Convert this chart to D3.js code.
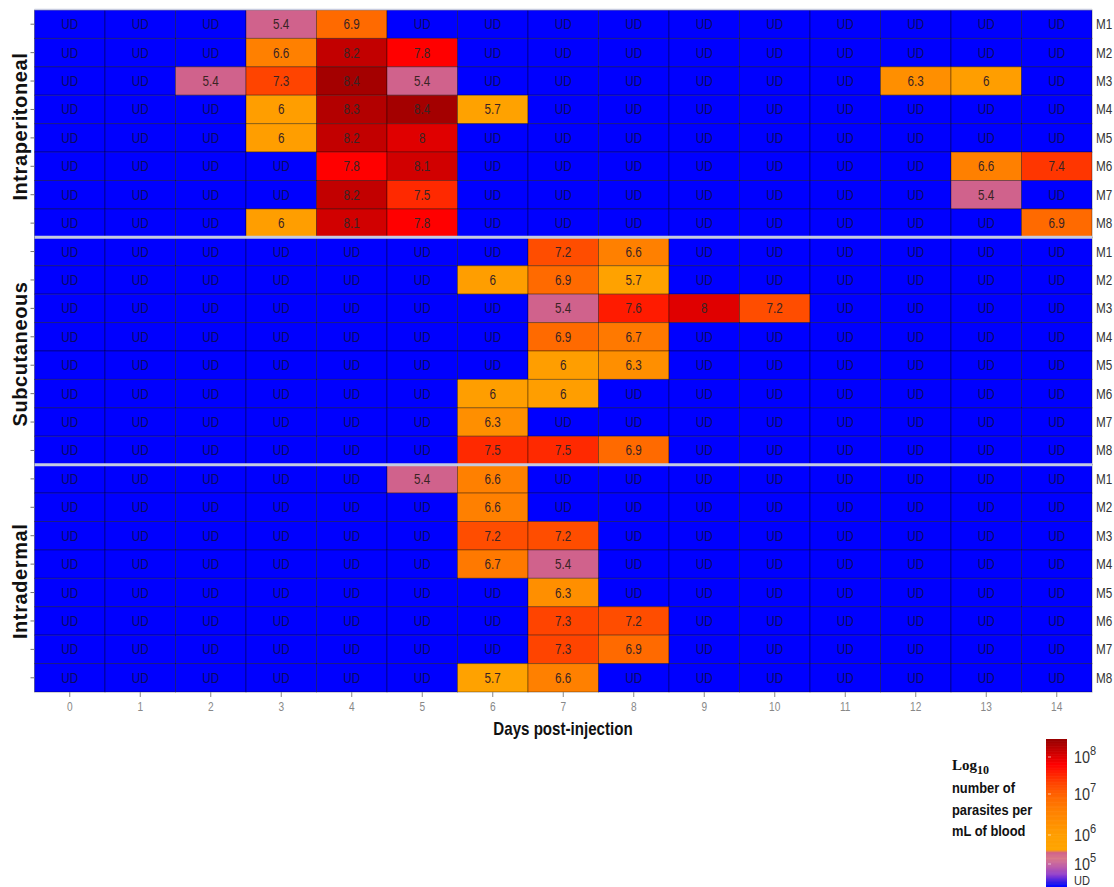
<!DOCTYPE html>
<html>
<head>
<meta charset="utf-8">
<script src="https://cdn.jsdelivr.net/npm/d3@7"></script>
<style>
  body { margin: 0; background: #fff; }
  svg { display: block; font-family: "Liberation Sans", Arial, sans-serif; }
</style>
</head>
<body>
<svg id="chart" width="1114" height="887"></svg>
<script>
// days on x axis, mice per route, routes
const days = [0, 1, 2, 3, 4, 5, 6, 7, 8, 9, 10, 11, 12, 13, 14];
const mice = ["M1", "M2", "M3", "M4", "M5", "M6", "M7", "M8"];
const routes = ["Intraperitoneal", "Subcutaneous", "Intradermal"];

// log10 parasites / mL, null = UD (undetected); one row per mouse, one value per day
const intraperitoneal = [
  [null, null, null, 5.4, 6.9, null, null, null, null, null, null, null, null, null, null],
  [null, null, null, 6.6, 8.2, 7.8, null, null, null, null, null, null, null, null, null],
  [null, null, 5.4, 7.3, 8.4, 5.4, null, null, null, null, null, null, 6.3, 6, null],
  [null, null, null, 6, 8.3, 8.4, 5.7, null, null, null, null, null, null, null, null],
  [null, null, null, 6, 8.2, 8, null, null, null, null, null, null, null, null, null],
  [null, null, null, null, 7.8, 8.1, null, null, null, null, null, null, null, 6.6, 7.4],
  [null, null, null, null, 8.2, 7.5, null, null, null, null, null, null, null, 5.4, null],
  [null, null, null, 6, 8.1, 7.8, null, null, null, null, null, null, null, null, 6.9]
];
const subcutaneous = [
  [null, null, null, null, null, null, null, 7.2, 6.6, null, null, null, null, null, null],
  [null, null, null, null, null, null, 6, 6.9, 5.7, null, null, null, null, null, null],
  [null, null, null, null, null, null, null, 5.4, 7.6, 8, 7.2, null, null, null, null],
  [null, null, null, null, null, null, null, 6.9, 6.7, null, null, null, null, null, null],
  [null, null, null, null, null, null, null, 6, 6.3, null, null, null, null, null, null],
  [null, null, null, null, null, null, 6, 6, null, null, null, null, null, null, null],
  [null, null, null, null, null, null, 6.3, null, null, null, null, null, null, null, null],
  [null, null, null, null, null, null, 7.5, 7.5, 6.9, null, null, null, null, null, null]
];
const intradermal = [
  [null, null, null, null, null, 5.4, 6.6, null, null, null, null, null, null, null, null],
  [null, null, null, null, null, null, 6.6, null, null, null, null, null, null, null, null],
  [null, null, null, null, null, null, 7.2, 7.2, null, null, null, null, null, null, null],
  [null, null, null, null, null, null, 6.7, 5.4, null, null, null, null, null, null, null],
  [null, null, null, null, null, null, null, 6.3, null, null, null, null, null, null, null],
  [null, null, null, null, null, null, null, 7.3, 7.2, null, null, null, null, null, null],
  [null, null, null, null, null, null, null, 7.3, 6.9, null, null, null, null, null, null],
  [null, null, null, null, null, null, 5.7, 6.6, null, null, null, null, null, null, null]
];
const legendTicks = [5, 6, 7, 8];

const routeData = [intraperitoneal, subcutaneous, intradermal];

const svg = d3.select("#chart");
const plotLeft = 34.5, plotRight = 1092, plotTop = 10, plotBottom = 692;
const narrow = 0.78; // horizontal squeeze, the source used a condensed face

// flatten into cells
const rowKeys = [];
const cells = [];
routeData.forEach((rows, g) => {
  rows.forEach((vals, m) => {
    const key = routes[g] + "-" + mice[m];
    rowKeys.push(key);
    vals.forEach((v, d) => cells.push({ key, day: days[d], value: v }));
  });
});

const x = d3.scaleBand().domain(days).range([plotLeft, plotRight]);
const y = d3.scaleBand().domain(rowKeys).range([plotTop, plotBottom]);

const udColor = "#0000ff";
const color = d3.scaleLinear()
  .domain([4.55, 4.75, 4.95, 5.2, 5.4, 5.5, 6.0, 6.6, 6.9, 7.3, 7.8, 8.0, 8.4, 8.6])
  .range(["#1010f0", "#8a3ad0", "#c060a8", "#d8788a", "#d0628c", "#ffa500", "#ff9e00", "#ff8000",
          "#ff6a00", "#ff4400", "#ff0000", "#e00000", "#a40000", "#8b0000"])
  .clamp(true);

// cells
svg.append("g").selectAll("rect")
  .data(cells)
  .join("rect")
  .attr("x", d => x(d.day))
  .attr("y", d => y(d.key))
  .attr("width", x.bandwidth())
  .attr("height", y.bandwidth())
  .attr("fill", d => d.value == null ? udColor : color(d.value))
  .attr("stroke", "rgba(0,0,0,0.35)")
  .attr("stroke-width", 1);

svg.append("g").selectAll("text")
  .data(cells)
  .join("text")
  .attr("transform", d => `translate(${x(d.day) + x.bandwidth() / 2},${y(d.key) + y.bandwidth() / 2}) scale(${narrow},1)`)
  .attr("text-anchor", "middle")
  .attr("dominant-baseline", "central")
  .attr("font-size", 15)
  .attr("fill", d => d.value == null ? "#0a0a5e" : "#3a2424")
  .text(d => d.value == null ? "UD" : d.value);

// group separators
[8, 16].forEach(i => {
  svg.append("line")
    .attr("x1", plotLeft).attr("x2", plotRight)
    .attr("y1", y(rowKeys[i])).attr("y2", y(rowKeys[i]))
    .attr("stroke", "#c4cbe0").attr("stroke-width", 3);
});
svg.append("line")
  .attr("x1", plotLeft).attr("x2", plotRight).attr("y1", plotTop - 0.5).attr("y2", plotTop - 0.5)
  .attr("stroke", "#c8cce0").attr("stroke-width", 1.5);

// left row ticks
svg.append("g").attr("transform", `translate(${plotLeft},0)`)
  .call(d3.axisLeft(y).tickSize(4).tickFormat(""))
  .call(g => g.select(".domain").remove())
  .call(g => g.selectAll("line").attr("stroke", "#777"));

// right mouse labels
svg.append("g").selectAll("text")
  .data(rowKeys)
  .join("text")
  .attr("transform", d => `translate(${plotRight + 4},${y(d) + y.bandwidth() / 2}) scale(${narrow},1)`)
  .attr("dominant-baseline", "central")
  .attr("font-size", 15)
  .attr("fill", "#333")
  .text(d => d.split("-")[1]);

// x axis
svg.append("g").attr("transform", `translate(0,${plotBottom})`)
  .call(d3.axisBottom(x).tickSize(5).tickPadding(5))
  .call(g => g.select(".domain").remove())
  .call(g => g.selectAll("line").attr("stroke", "#888"))
  .call(g => g.selectAll("text").attr("fill", "#888").attr("font-size", 13)
    .attr("font-family", "\"Liberation Sans\", Arial, sans-serif")
    .attr("transform", `scale(${narrow},1)`));

svg.append("text")
  .attr("transform", `translate(563,735) scale(0.84,1)`)
  .attr("text-anchor", "middle")
  .attr("font-size", 18).attr("font-weight", "bold").attr("fill", "#111")
  .text("Days post-injection");

// route labels
routes.forEach((r, g) => {
  const y0 = y(rowKeys[g * 8]), y1 = y(rowKeys[g * 8 + 7]) + y.bandwidth();
  svg.append("text")
    .attr("transform", `translate(27,${(y0 + y1) / 2 + 3}) rotate(-90)`)
    .attr("text-anchor", "middle")
    .attr("font-size", 20).attr("font-weight", "bold").attr("fill", "#111")
    .attr("letter-spacing", 0.6)
    .text(r);
});

// legend
const barX = 1046, barW = 21, barTop = 739, barBottom = 887;
const yLeg = d3.scaleLinear().domain([4.5, 5, 6, 7, 8, 8.5]).range([barBottom, 864, 835, 794, 757, barTop]);
const steps = d3.range(4.5, 8.5, 0.02);
svg.append("g").selectAll("rect")
  .data(steps)
  .join("rect")
  .attr("x", barX)
  .attr("y", d => yLeg(d + 0.02))
  .attr("width", barW)
  .attr("height", d => yLeg(d) - yLeg(d + 0.02) + 0.6)
  .attr("fill", d => d < 4.55 ? udColor : color(d));

svg.append("g").selectAll("line")
  .data(legendTicks)
  .join("line")
  .attr("x1", barX + 2).attr("x2", barX + 5)
  .attr("y1", d => yLeg(d)).attr("y2", d => yLeg(d))
  .attr("stroke", "rgba(255,255,255,0.6)");

const lt = svg.append("g").selectAll("text")
  .data(legendTicks)
  .join("text")
  .attr("transform", d => `translate(${barX + barW + 7},${yLeg(d) + 6}) scale(0.85,1)`)
  .attr("font-size", 17)
  .attr("fill", "#333");
lt.append("tspan").text("10");
lt.append("tspan").attr("dy", -8).attr("font-size", 13).text(d => d);

svg.append("text")
  .attr("transform", `translate(${barX + barW + 7},885) scale(0.85,1)`)
  .attr("font-size", 13).attr("fill", "#333")
  .text("UD");

const lg = svg.append("text")
  .attr("x", 952).attr("y", 770)
  .attr("font-family", "\"Liberation Serif\", \"Times New Roman\", serif")
  .attr("font-size", 15).attr("font-weight", "bold").attr("fill", "#111");
lg.append("tspan").text("Log");
lg.append("tspan").attr("dy", 4).attr("font-size", 12).text("10");

["number of", "parasites per", "mL of blood"].forEach((t, i) => {
  svg.append("text")
    .attr("transform", `translate(952,${793 + i * 21.5}) scale(0.86,1)`)
    .attr("font-size", 15).attr("font-weight", "bold").attr("fill", "#111")
    .text(t);
});
</script>
</body>
</html>
